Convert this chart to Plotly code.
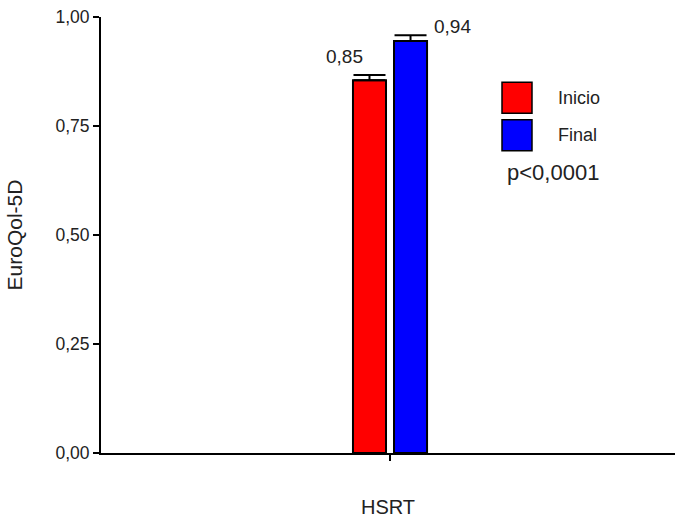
import plotly.graph_objects as go

category = ["HSRT"]
series_names = ["Inicio", "Final"]
means = [0.855, 0.945]
errors_up = [0.012, 0.013]
value_labels = ["0,85", "0,94"]
colors = ["#ff0000", "#0000ff"]
p_text = "p<0,0001"

FAM = "Liberation Sans, Arial, sans-serif"
TXT = "#222"
L, R, T, B = 101, 0, 17, 70
PW = 675 - L - R

fig = go.Figure()
for name, m, e, c in zip(series_names, means, errors_up, colors):
    fig.add_trace(go.Bar(
        x=category, y=[m], name=name,
        marker=dict(color=c, line=dict(color="black", width=2)),
        error_y=dict(type="data", array=[e], arrayminus=[0], symmetric=False,
                     color="black", thickness=2, width=16),
        showlegend=False,
    ))

annotations = [
    dict(x=category[0], y=means[0] + errors_up[0], text=value_labels[0], showarrow=False,
         xref="x", yref="y", xshift=-46, yshift=18, font=dict(family=FAM, size=19, color=TXT)),
    dict(x=category[0], y=means[1] + errors_up[1], text=value_labels[1], showarrow=False,
         xref="x", yref="y", xshift=62, yshift=9, font=dict(family=FAM, size=19, color=TXT)),
]
# manual legend
shapes = []
legend_y = [0.815, 0.729]
for name, c, ly in zip(series_names, colors, legend_y):
    shapes.append(dict(type="rect", xref="paper", yref="paper",
                       x0=(502 - L) / PW, x1=(532 - L) / PW,
                       y0=ly - 0.0356, y1=ly + 0.0356,
                       fillcolor=c, line=dict(color="black", width=1.5)))
    annotations.append(dict(xref="paper", yref="paper", x=(556 - L) / PW, y=ly,
                            text=name, showarrow=False, xanchor="left", yanchor="middle",
                            font=dict(family=FAM, size=18, color=TXT)))
annotations.append(dict(xref="paper", yref="paper", x=(553 - L) / PW, y=0.644,
                        text=p_text, showarrow=False, xanchor="center", yanchor="middle",
                        font=dict(family=FAM, size=22, color=TXT)))

fig.update_layout(
    width=675, height=523,
    margin=dict(l=L, r=R, t=T, b=B),
    paper_bgcolor="white", plot_bgcolor="white",
    barmode="group", bargap=0.857, bargroupgap=0.195,
    separators=",.",
    font=dict(family=FAM, size=17.5, color=TXT),
    shapes=shapes,
    annotations=annotations,
    xaxis=dict(range=[-0.5035, 0.4965], showline=True, linecolor="black", linewidth=2,
               ticks="outside", ticklen=6, tickwidth=2, tickcolor="black", showticklabels=False,
               title=dict(text="HSRT", font=dict(size=20, color=TXT), standoff=40),
               showgrid=False, zeroline=False),
    yaxis=dict(range=[0, 1.0], tickvals=[0, 0.25, 0.5, 0.75, 1.0], tickformat=".2f",
               showline=True, linecolor="black", linewidth=2, ticks="outside",
               ticklen=6, tickwidth=2, tickcolor="black",
               title=dict(text="EuroQol-5D", font=dict(size=21, color=TXT), standoff=27),
               showgrid=False, zeroline=False),
)

fig.write_html("out.html")
